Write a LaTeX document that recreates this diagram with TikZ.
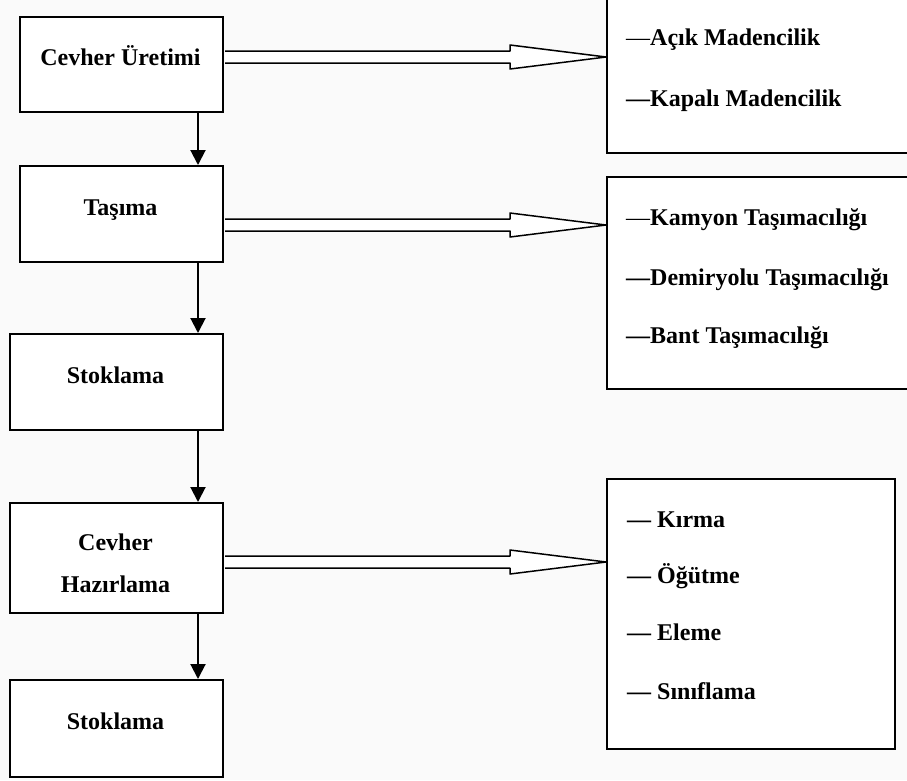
\documentclass[tikz,border=0pt]{standalone}
\usepackage{fontspec}
\setmainfont{Liberation Serif}
\usetikzlibrary{arrows.meta,calc}
\definecolor{bgc}{RGB}{250,250,250}
\newcommand\hollowarr[2]{\draw[harrow] ($(#1)+(1,-6)$) -- ($(#2)+(-96,-6)$) -- ($(#2)+(-96,-12)$) -- (#2) -- ($(#2)+(-96,12)$) -- ($(#2)+(-96,6)$) -- ($(#1)+(1,6)$);}
\begin{document}
\begin{tikzpicture}[x=1pt,y=-1pt,
  lbox/.style={draw,fill=white,line width=2pt,anchor=north west,inner sep=0pt},
  rbox/.style={draw,fill=white,line width=2.2pt,anchor=north west,inner sep=0pt},
  lbl/.style={font=\fontsize{24}{28}\selectfont\bfseries,inner sep=0pt,anchor=base},
  item/.style={font=\fontsize{24}{28}\selectfont\bfseries,inner sep=0pt,anchor=base west},
  varrow/.style={line width=2pt,-{Triangle[length=15pt,width=15pt]}},
  harrow/.style={draw,fill=white,line width=1.5pt,line join=round}]
\useasboundingbox (0,0) rectangle (907,780);
\clip (0,0) rectangle (907,780);
\fill[bgc] (0,0) rectangle (907,780);
% left boxes
\node[lbox,minimum width=203pt,minimum height=95pt] (b1) at (19,16) {};
\node[lbox,minimum width=203pt,minimum height=96pt] (b2) at (19,165) {};
\node[lbox,minimum width=213pt,minimum height=96pt] (b3) at (9,333) {};
\node[lbox,minimum width=213pt,minimum height=110pt] (b4) at (9,502) {};
\node[lbox,minimum width=213pt,minimum height=97pt] (b5) at (9,679) {};
\node[lbl] (t1) at (120.5,65) {Cevher Üretimi};
\node[lbl] (t2) at (120.5,215) {Taşıma};
\node[lbl] (t3) at (115.5,383) {Stoklama};
\node[lbl] (t4a) at (115.5,550) {Cevher};
\node[lbl] (t4b) at (115.5,592) {Hazırlama};
\node[lbl] (t5) at (115.5,729) {Stoklama};
% right boxes
\node[rbox,minimum width=320pt,minimum height=162pt] (r1) at (606,-10) {};
\node[rbox,minimum width=320pt,minimum height=212pt] (r2) at (606,176) {};
\node[rbox,minimum width=288pt,minimum height=270pt] (r3) at (606,478) {};
\node[item] (i1) at (626,45) {{\mdseries —}Açık Madencilik};
\node[item] (i2) at (626,106) {—Kapalı Madencilik};
\node[item] (i3) at (626,225) {{\mdseries —}Kamyon Taşımacılığı};
\node[item] (i4) at (626,285) {—Demiryolu Taşımacılığı};
\node[item] (i5) at (626,343) {—Bant Taşımacılığı};
\node[item] (i6) at (627,527) {— Kırma};
\node[item] (i7) at (627,583) {— Öğütme};
\node[item] (i8) at (627,640) {— Eleme};
\node[item] (i9) at (627,699) {— Sınıflama};
% vertical arrows
\coordinate (ax) at (198,0);
\draw[varrow] (b1.south -| ax) -- (b2.north -| ax);
\draw[varrow] (b2.south -| ax) -- (b3.north -| ax);
\draw[varrow] (b3.south -| ax) -- (b4.north -| ax);
\draw[varrow] (b4.south -| ax) -- (b5.north -| ax);
% hollow arrows
\coordinate (h1s) at (b1.east |- 0,57);
\coordinate (h1t) at (r1.west |- 0,57);
\coordinate (h2s) at (b2.east |- 0,225);
\coordinate (h2t) at (r2.west |- 0,225);
\coordinate (h3s) at (b4.east |- 0,562);
\coordinate (h3t) at (r3.west |- 0,562);
\hollowarr{h1s}{h1t}
\hollowarr{h2s}{h2t}
\hollowarr{h3s}{h3t}
\end{tikzpicture}
\end{document}
